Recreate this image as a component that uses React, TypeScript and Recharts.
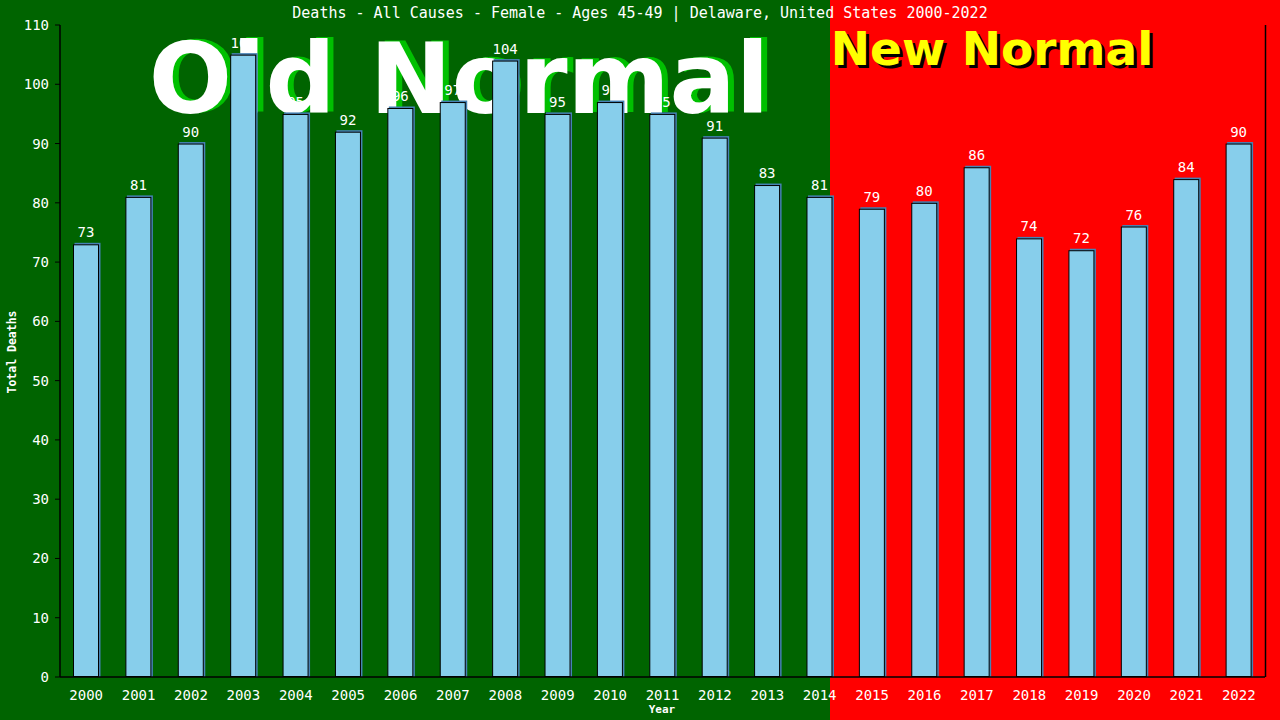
import React from 'react';
import { BarChart, Bar, XAxis, YAxis, LabelList } from 'recharts';

const years = ['2000','2001','2002','2003','2004','2005','2006','2007','2008','2009','2010','2011','2012','2013','2014','2015','2016','2017','2018','2019','2020','2021','2022'];
const deaths = [73, 81, 90, 105, 95, 92, 96, 97, 104, 95, 97, 95, 91, 83, 81, 79, 80, 86, 74, 72, 76, 84, 90];
const yTicks = [0, 10, 20, 30, 40, 50, 60, 70, 80, 90, 100, 110];

const title = 'Deaths - All Causes - Female - Ages 45-49 | Delaware, United States 2000-2022';

const data = years.map((year, i) => ({ year, deaths: deaths[i] }));

const MONO = "'DejaVu Sans Mono', 'Liberation Mono', monospace";
const SANS = "'DejaVu Sans', Verdana, sans-serif";

const BarShape = (props: any) => {
  const x = Number(props.x);
  const y = Number(props.y);
  const w = Number(props.width);
  const h = Number(props.height);
  if (!(w > 0) || !(h > 0)) return <g />;
  return (
    <g>
      <rect x={x + 1.5} y={y - 1.5} width={w} height={h + 1.5} fill="#4682B4" />
      <rect x={x + 0.5} y={y + 0.5} width={w - 1} height={h - 1} fill="#87CEEB" stroke="#000" strokeWidth={1} />
    </g>
  );
};

export default function App() {
  return (
    <div style={{ position: 'absolute', left: 0, top: 0, width: 1280, height: 720, overflow: 'hidden' }}>
      <svg width={1280} height={720} style={{ position: 'absolute', left: 0, top: 0 }}>
        <rect x={0} y={0} width={830} height={720} fill="#006400" />
        <rect x={830} y={0} width={450} height={720} fill="#FF0000" />
        <text x={465} y={112} textAnchor="middle" fontFamily={SANS} fontWeight="bold" fontSize={98} fill="#00C000">Old Normal</text>
        <text x={459} y={113} textAnchor="middle" fontFamily={SANS} fontWeight="bold" fontSize={98} fill="#FFFFFF">Old Normal</text>
        <text x={995} y={68} textAnchor="middle" fontFamily={SANS} fontWeight="bold" fontSize={47} fill="#000000">New Normal</text>
        <text x={992} y={65} textAnchor="middle" fontFamily={SANS} fontWeight="bold" fontSize={47} fill="#FFFF00">New Normal</text>
        <line x1={1265.5} y1={25} x2={1265.5} y2={677} stroke="#000" strokeWidth={1.5} />
      </svg>
      <div style={{ position: 'absolute', left: 0, top: 0 }}>
        <BarChart width={1280} height={720} data={data} margin={{ top: 25, right: 15, bottom: 0, left: 0 }} barSize={26}>
          <XAxis
            dataKey="year"
            height={43}
            interval={0}
            axisLine={{ stroke: '#000', strokeWidth: 1.5 }}
            tickLine={false}
            tickMargin={7}
            tick={{ fill: '#fff', fontSize: 14, fontFamily: MONO }}
            label={{
              content: () => (
                <text x={662} y={713} textAnchor="middle" fill="#fff" fontFamily={MONO} fontWeight="bold" fontSize={11}>Year</text>
              ),
            }}
          />
          <YAxis
            width={60}
            domain={[0, 110]}
            ticks={yTicks}
            interval={0}
            axisLine={{ stroke: '#000', strokeWidth: 1.5 }}
            tickLine={{ stroke: '#000' }}
            tickSize={5}
            tickMargin={6}
            tick={{ fill: '#fff', fontSize: 14, fontFamily: MONO }}
            label={{
              content: () => (
                <text x={16} y={352} transform="rotate(-90 16 352)" textAnchor="middle" fill="#fff" fontFamily={MONO} fontWeight="bold" fontSize={11.5}>Total Deaths</text>
              ),
            }}
          />
          <Bar dataKey="deaths" fill="#87CEEB" shape={BarShape} isAnimationActive={false}>
            <LabelList dataKey="deaths" position="top" offset={7} fill="#fff" fontSize={14} fontFamily={MONO} />
          </Bar>
        </BarChart>
      </div>
      <svg width={1280} height={30} style={{ position: 'absolute', left: 0, top: 0, pointerEvents: 'none' }}>
        <text x={640} y={18} textAnchor="middle" fill="#fff" fontFamily={MONO} fontSize={15}>{title}</text>
      </svg>
    </div>
  );
}
